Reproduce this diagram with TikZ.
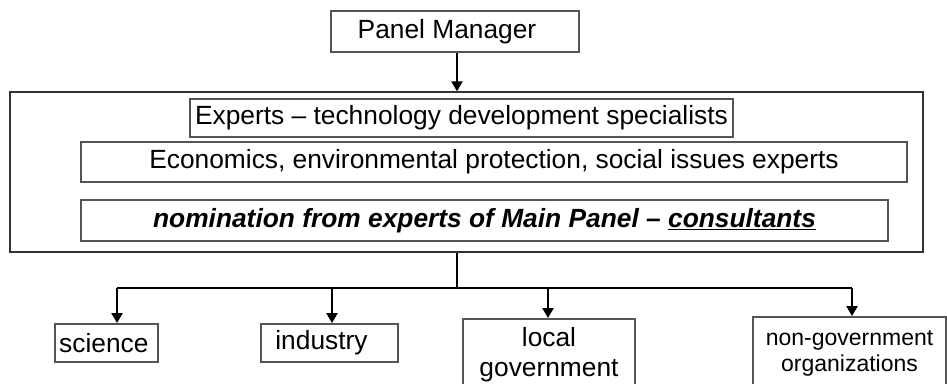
\documentclass[tikz,border=0pt]{standalone}
\usepackage{fontspec}
\setmainfont{Liberation Sans}
\usetikzlibrary{arrows.meta}

\tikzset{every picture/.style={line width=0.75pt}}
\tikzset{
  panelbox/.style={draw={rgb, 255:red, 85; green, 85; blue, 85 }, line width=1.5pt, inner sep=0pt, align=center, font=\fontsize{19.75}{22.5}\selectfont},
  groupbox/.style={panelbox, font=\fontsize{17.25}{20}\selectfont},
  conn/.style={draw=black, line width=1.1pt, -{Triangle[length=7.5pt,width=8.5pt]}},
}

\begin{document}
\begin{tikzpicture}[x=0.75pt,y=0.75pt,yscale=-1,xscale=1]
\path[use as bounding box, clip] (0,0) rectangle (947,383);

% Manager
\node [panelbox, minimum width=186pt, minimum height=30.75pt] (pm) at (455,31.5) {Panel Manager\hspace{12pt}};

% Main Panel
\node [draw={rgb, 255:red, 51; green, 51; blue, 51 }, line width=1.1pt, minimum width=684.75pt, minimum height=120pt] (panel) at (466.5,172) {};
\node [panelbox, minimum width=407.25pt, minimum height=28.5pt] (exp) at (461.5,118) {Experts -- technology development specialists};
\node [panelbox, minimum width=619.5pt, minimum height=30pt] (eco) at (494,162) {Economics, environmental protection, social issues experts};
\node [panelbox, minimum width=605.25pt, minimum height=30.75pt] (nom) at (484.5,220.5) {\textbf{\textit{nomination from experts of Main Panel -- \underline{consultants}}}};

% Groups
\node [panelbox, minimum width=77.25pt, minimum height=28.5pt] (sci) at (106.5,343) {science\hspace{4pt}};
\node [panelbox, minimum width=102.75pt, minimum height=28.5pt] (ind) at (329.5,343) {industry\hspace{12pt}};
\node [panelbox, minimum width=129pt, minimum height=53.25pt] (loc) at (549,354.5) {local\\government};
\node [groupbox, minimum width=144.75pt, minimum height=54.75pt] (ngo) at (849.5,353.5) {non-government\\organizations};

% Bus
\coordinate (hub) at (457,288);
\coordinate (bsci) at (117,288);
\coordinate (bind) at (332,288);
\coordinate (bloc) at (548,288);
\coordinate (bngo) at (852,288);

\draw [conn] (pm.south -| hub) -- (hub |- panel.north);
\draw [draw=black, line width=1.1pt] (hub |- panel.south) -- (hub);
\draw [draw=black, line width=1.1pt] (bsci) -- (bngo);
\draw [conn] (bsci) -- (bsci |- sci.north);
\draw [conn] (bind) -- (bind |- ind.north);
\draw [conn] (bloc) -- (bloc |- loc.north);
\draw [conn] (bngo) -- (bngo |- ngo.north);
\end{tikzpicture}
\end{document}
